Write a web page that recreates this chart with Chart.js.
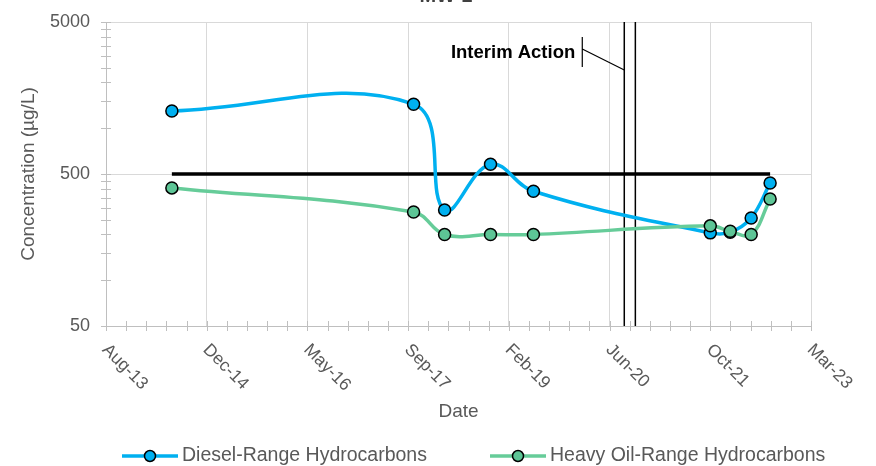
<!DOCTYPE html>
<html>
<head>
<meta charset="utf-8">
<script src="https://cdn.jsdelivr.net/npm/chart.js@4.4.0/dist/chart.umd.min.js"></script>
<style>
  html, body { margin: 0; padding: 0; background: #fff; }
  #wrap { width: 876px; height: 466px; }
</style>
</head>
<body>
<div id="wrap"><canvas id="myChart" width="876" height="466"></canvas></div>
<script>
// sample results, ug/L
const sampleDates = ['2014-07-07', '2017-10-19', '2018-03-22', '2018-11-05', '2019-06-06',
                     '2021-10-31', '2022-02-07', '2022-05-22', '2022-08-24'];
const dieselValues = [1300, 1440, 290, 580, 385, 205, 207, 257, 436];
const heavyOilValues = [405, 281, 200, 200, 200, 228, 210, 200, 342];
const screeningLevel = 500;

const interimDates = ['2020-08-30', '2020-10-24'];
const interimLabel = 'Interim Action';

const xTickValues = [41500, 42000, 42500, 43000, 43500, 44000, 44500, 45000];
const xTickLabels = ['Aug-13', 'Dec-14', 'May-16', 'Sep-17', 'Feb-19', 'Jun-20', 'Oct-21', 'Mar-23'];
const yTickValues = [50, 500, 5000];

const legends = ['Diesel-Range Hydrocarbons', 'Heavy Oil-Range Hydrocarbons'];
const chartTitle = 'MW-1';

const FONT = '"Liberation Sans", Arial, sans-serif';
const dieselColor = '#00B0F0';
const heavyLine = '#66CC99';
const heavyPoint = '#5DC596';

// excel style serial day number
function toSerial(s) {
    var p = s.split('-');
    return (Date.UTC(+p[0], p[1] - 1, +p[2]) - Date.UTC(1899, 11, 30)) / 86400000;
}

const dieselData = sampleDates.map((d, i) => ({ x: toSerial(d), y: dieselValues[i] }));
const heavyData = sampleDates.map((d, i) => ({ x: toSerial(d), y: heavyOilValues[i] }));
const screenData = [
    { x: toSerial(sampleDates[0]), y: screeningLevel },
    { x: toSerial(sampleDates[sampleDates.length - 1]), y: screeningLevel }
];

const extras = {
    id: 'extras',
    beforeDatasetsDraw(chart) {
        const ctx = chart.ctx, a = chart.chartArea, xs = chart.scales.x;
        ctx.save();
        ctx.strokeStyle = '#000';
        ctx.lineWidth = 1.5;
        interimDates.forEach(d => {
            const px = xs.getPixelForValue(toSerial(d));
            ctx.beginPath();
            ctx.moveTo(px, a.top);
            ctx.lineTo(px, a.bottom);
            ctx.stroke();
        });
        ctx.restore();
    },
    afterDraw(chart) {
        const ctx = chart.ctx, a = chart.chartArea, xs = chart.scales.x, ys = chart.scales.y;
        ctx.save();

        // cross tick marks
        ctx.strokeStyle = '#BFBFBF';
        ctx.lineWidth = 1;
        const minorX = (xTickValues[1] - xTickValues[0]) / 5;
        for (let v = xTickValues[0]; v <= xTickValues[xTickValues.length - 1]; v += minorX) {
            const px = Math.round(xs.getPixelForValue(v)) + 0.5;
            ctx.beginPath();
            ctx.moveTo(px, a.bottom - 5);
            ctx.lineTo(px, a.bottom + 5);
            ctx.stroke();
        }
        for (let i = 0; i < yTickValues.length; i++) {
            const base = yTickValues[i];
            const ks = i < yTickValues.length - 1 ? [1, 2, 3, 4, 5, 6, 7, 8, 9] : [1];
            ks.forEach(k => {
                const py = Math.round(ys.getPixelForValue(base * k)) + 0.5;
                ctx.beginPath();
                ctx.moveTo(a.left - 5, py);
                ctx.lineTo(a.left + 5, py);
                ctx.stroke();
            });
        }

        // rotated date labels
        ctx.fillStyle = '#595959';
        ctx.font = '17.5px ' + FONT;
        ctx.textAlign = 'left';
        ctx.textBaseline = 'middle';
        xTickValues.forEach((v, i) => {
            const px = xs.getPixelForValue(v);
            ctx.save();
            ctx.translate(px - 1, a.bottom + 21);
            ctx.rotate(Math.PI / 4);
            ctx.fillText(xTickLabels[i], 0, 0);
            ctx.restore();
        });

        // interim action callout
        const lx = xs.getPixelForValue(toSerial(interimDates[0]));
        ctx.fillStyle = '#000';
        ctx.font = 'bold 18.5px ' + FONT;
        ctx.textAlign = 'right';
        ctx.fillText(interimLabel, lx - 49, 53);
        ctx.strokeStyle = '#000';
        ctx.lineWidth = 1.2;
        ctx.beginPath();
        ctx.moveTo(lx - 42, 37);
        ctx.lineTo(lx - 42, 67);
        ctx.moveTo(lx - 42, 49);
        ctx.lineTo(lx, 70);
        ctx.stroke();

        // title, cut off at the top edge
        ctx.fillStyle = '#404040';
        ctx.font = 'bold 20px ' + FONT;
        ctx.textAlign = 'center';
        ctx.textBaseline = 'alphabetic';
        ctx.fillText(chartTitle, 446, 2);

        // legend
        const items = [
            { x: 122, line: dieselColor, fill: dieselColor, text: legends[0] },
            { x: 490, line: heavyLine, fill: heavyPoint, text: legends[1] }
        ];
        const ly = 456;
        items.forEach(it => {
            ctx.strokeStyle = it.line;
            ctx.lineWidth = 3.5;
            ctx.beginPath();
            ctx.moveTo(it.x, ly);
            ctx.lineTo(it.x + 56, ly);
            ctx.stroke();
            ctx.beginPath();
            ctx.arc(it.x + 28, ly, 5.5, 0, Math.PI * 2);
            ctx.fillStyle = it.fill;
            ctx.fill();
            ctx.strokeStyle = '#000';
            ctx.lineWidth = 1.5;
            ctx.stroke();
            ctx.fillStyle = '#595959';
            ctx.font = '19.5px ' + FONT;
            ctx.textAlign = 'left';
            ctx.textBaseline = 'middle';
            ctx.fillText(it.text, it.x + 60, ly);
        });

        ctx.restore();
    }
};

const data = {
    datasets: [{
        label: legends[1],
        data: heavyData,
        borderColor: heavyLine,
        backgroundColor: heavyPoint,
        pointBackgroundColor: heavyPoint,
        pointBorderColor: '#000',
        pointBorderWidth: 1.5,
        pointRadius: 6,
        borderWidth: 3.5,
        tension: 0.4
    }, {
        label: legends[0],
        data: dieselData,
        borderColor: dieselColor,
        backgroundColor: dieselColor,
        pointBackgroundColor: dieselColor,
        pointBorderColor: '#000',
        pointBorderWidth: 1.5,
        pointRadius: 6,
        borderWidth: 3.5,
        tension: 0.4
    }, {
        label: 'Screening Level',
        data: screenData,
        borderColor: '#000',
        borderWidth: 3.5,
        pointRadius: 0,
        tension: 0
    }]
};

const config = {
    type: 'line',
    data: data,
    options: {
        responsive: false,
        animation: false,
        layout: { padding: { top: 22, right: 65, bottom: 40, left: 0 } },
        plugins: {
            legend: { display: false },
            tooltip: { enabled: false }
        },
        scales: {
            x: {
                type: 'linear',
                min: xTickValues[0],
                max: xTickValues[xTickValues.length - 1],
                afterBuildTicks: s => { s.ticks = xTickValues.map(v => ({ value: v })); },
                afterFit: s => { s.height = 100; s.paddingLeft = 0; s.paddingRight = 0; },
                ticks: { display: false },
                grid: { color: '#D9D9D9', drawTicks: false },
                border: { color: '#BFBFBF' },
                title: {
                    display: true,
                    text: 'Date',
                    color: '#595959',
                    font: { family: FONT, size: 19 },
                    padding: { top: 0, bottom: 3 }
                }
            },
            y: {
                type: 'logarithmic',
                min: yTickValues[0],
                max: yTickValues[yTickValues.length - 1],
                afterBuildTicks: s => { s.ticks = yTickValues.map(v => ({ value: v })); },
                afterFit: s => { s.width = 106; s.paddingTop = 0; s.paddingBottom = 0; },
                ticks: {
                    callback: v => String(v),
                    color: '#595959',
                    font: { family: FONT, size: 18 },
                    padding: 16
                },
                grid: { color: '#D9D9D9', drawTicks: false },
                border: { color: '#BFBFBF' },
                title: {
                    display: true,
                    text: 'Concentration (µg/L)',
                    color: '#595959',
                    font: { family: FONT, size: 19 },
                    padding: { top: 17, bottom: 0 }
                }
            }
        }
    },
    plugins: [extras]
};

var myChart = new Chart(document.getElementById('myChart'), config);
</script>
</body>
</html>
